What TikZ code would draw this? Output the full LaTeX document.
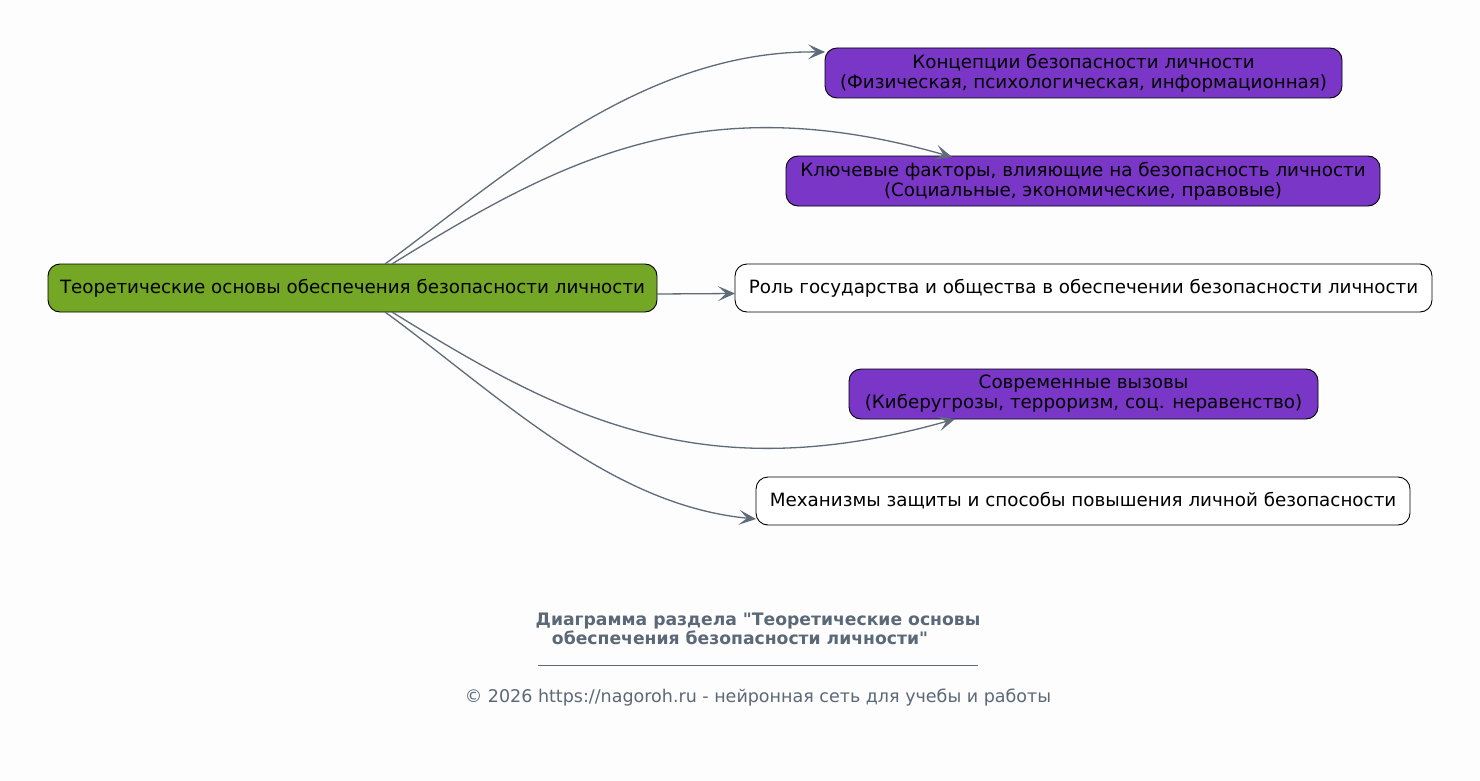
\documentclass[tikz,border=0pt]{standalone}
\usepackage{fontspec}
\setmainfont{DejaVu Sans}[Ligatures=TeXOff]
\usetikzlibrary{arrows.meta}
\definecolor{bg}{HTML}{FDFDFD}
\definecolor{green1}{HTML}{74A725}
\definecolor{purple1}{HTML}{7A36C6}
\definecolor{edgec}{HTML}{5E6B78}
\definecolor{foot}{HTML}{5A6878}
\tikzset{
  box/.style={draw=black, line width=0.9pt, rounded corners=12pt, inner sep=0pt, align=center, font=\fontsize{18.3}{20}\selectfont, text=black},
  conn/.style={draw=edgec, line width=1.3pt, -{Stealth[length=17pt,width=15pt,inset=8pt]}},
  foottext/.style={text=foot, inner sep=0pt, anchor=center},
}
\begin{document}
\begin{tikzpicture}[x=1pt,y=-1pt]
\path[fill=bg] (0,0) rectangle (1480,781);
\useasboundingbox (0,0) rectangle (1480,781);
\node[box, fill=green1, minimum width=609pt, minimum height=48pt] (main) at (352.5,288) {Теоретические основы обеспечения безопасности личности};
\node[box, fill=purple1, minimum width=517pt, minimum height=50pt] (n1) at (1083.5,73) {Концепции безопасности личности\\(Физическая, психологическая, информационная)};
\node[box, fill=purple1, minimum width=594pt, minimum height=50pt] (n2) at (1083,181) {Ключевые факторы, влияющие на безопасность личности\\(Социальные, экономические, правовые)};
\node[box, fill=white, minimum width=697pt, minimum height=48pt] (n3) at (1083.5,288) {Роль государства и общества в обеспечении безопасности личности};
\node[box, fill=purple1, minimum width=469pt, minimum height=50pt] (n4) at (1083.5,394) {Современные вызовы\\(Киберугрозы, терроризм, соц. неравенство)};
\node[box, fill=white, minimum width=654pt, minimum height=48pt] (n5) at (1083,501) {Механизмы защиты и способы повышения личной безопасности};
\coordinate (s1) at (385,264);
\coordinate (s2) at (392,264);
\coordinate (s4) at (392,312);
\coordinate (s5) at (385,312);
\coordinate (s3) at (657,294);
\coordinate (t1) at (825,52);
\coordinate (t2) at (952,157);
\coordinate (t3) at (735,293.5);
\coordinate (t4) at (955,419);
\coordinate (t5) at (756,519);
\draw[conn] (s1) .. controls (500,180) and (640,50) .. (t1);
\draw[conn] (s2) .. controls (560,160) and (700,85) .. (t2);
\draw[conn] (s3) -- (t3);
\draw[conn] (s4) .. controls (560,416) and (700,491) .. (t4);
\draw[conn] (s5) .. controls (500,396) and (610,505) .. (t5);
\node[foottext, font=\bfseries\fontsize{17.2}{17}\selectfont] (title1) at (758,621) {Диаграмма раздела "Теоретические основы};
\node[foottext, font=\bfseries\fontsize{17.2}{17}\selectfont] (title2) at (740,638) {обеспечения безопасности личности"};
\coordinate (r1) at (538,665);
\coordinate (r2) at (978,665);
\draw[foot, line width=0.8pt] (r1) -- (r2);
\node[foottext, font=\fontsize{17.5}{17}\selectfont] (copy) at (758,698) {© 2026 https://nagoroh.ru - нейронная сеть для учебы и работы};
\end{tikzpicture}
\end{document}
